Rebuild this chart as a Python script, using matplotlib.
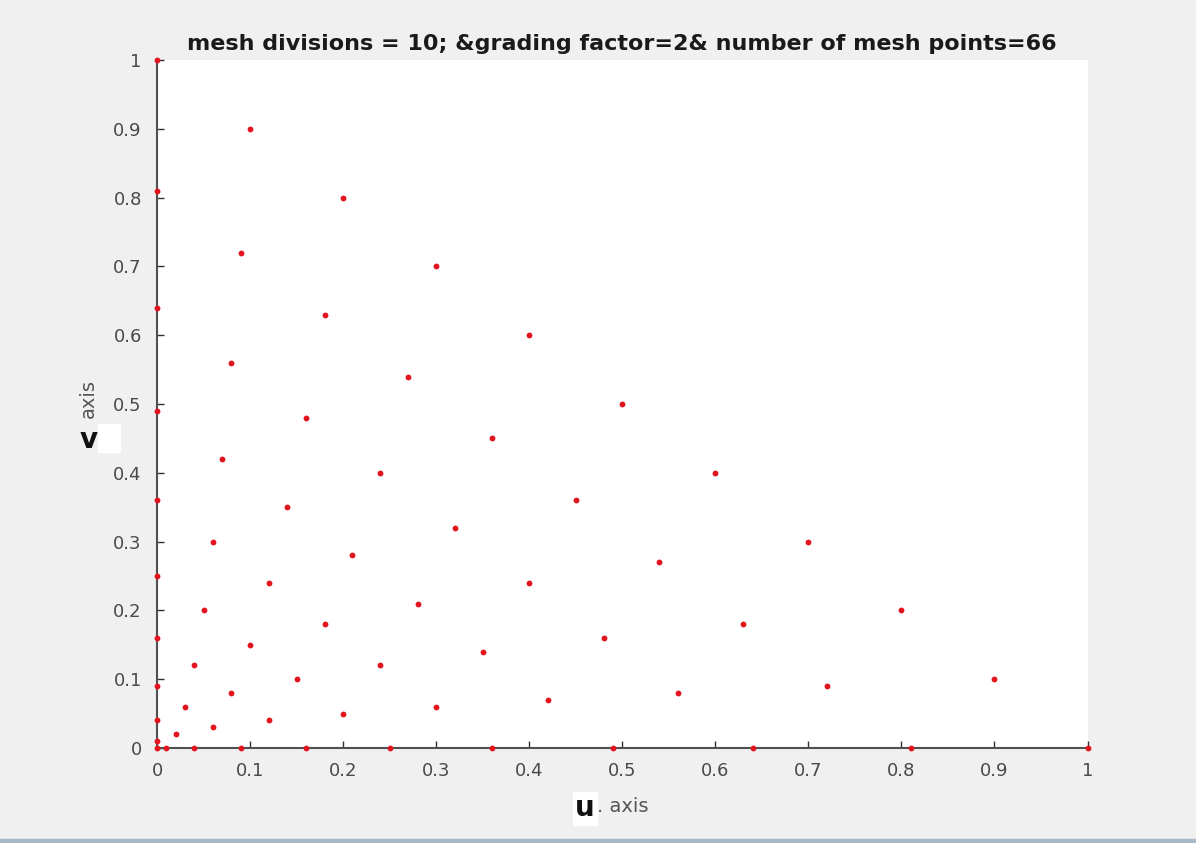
import matplotlib.pyplot as plt
from matplotlib.patches import Rectangle

# mesh points, grouped by ring (u + v = const)
u_pts = [0,
         0, 0.01,
         0, 0.02, 0.04,
         0, 0.03, 0.06, 0.09,
         0, 0.04, 0.08, 0.12, 0.16,
         0, 0.05, 0.10, 0.15, 0.20, 0.25,
         0, 0.06, 0.12, 0.18, 0.24, 0.30, 0.36,
         0, 0.07, 0.14, 0.21, 0.28, 0.35, 0.42, 0.49,
         0, 0.08, 0.16, 0.24, 0.32, 0.40, 0.48, 0.56, 0.64,
         0, 0.09, 0.18, 0.27, 0.36, 0.45, 0.54, 0.63, 0.72, 0.81,
         0, 0.1, 0.2, 0.3, 0.4, 0.5, 0.6, 0.7, 0.8, 0.9, 1.0]
v_pts = [0,
         0.01, 0,
         0.04, 0.02, 0,
         0.09, 0.06, 0.03, 0,
         0.16, 0.12, 0.08, 0.04, 0,
         0.25, 0.20, 0.15, 0.10, 0.05, 0,
         0.36, 0.30, 0.24, 0.18, 0.12, 0.06, 0,
         0.49, 0.42, 0.35, 0.28, 0.21, 0.14, 0.07, 0,
         0.64, 0.56, 0.48, 0.40, 0.32, 0.24, 0.16, 0.08, 0,
         0.81, 0.72, 0.63, 0.54, 0.45, 0.36, 0.27, 0.18, 0.09, 0,
         1.0, 0.9, 0.8, 0.7, 0.6, 0.5, 0.4, 0.3, 0.2, 0.1, 0]
ticks = [0, 0.1, 0.2, 0.3, 0.4, 0.5, 0.6, 0.7, 0.8, 0.9, 1]
tick_labels = ['0', '0.1', '0.2', '0.3', '0.4', '0.5', '0.6', '0.7', '0.8', '0.9', '1']

fig = plt.figure(figsize=(11.96, 8.43), dpi=100, facecolor='#f0f0f0')
ax = fig.add_axes([0.1313, 0.1127, 0.778, 0.816])
ax.set_facecolor('white')

ax.plot(u_pts, v_pts, linestyle='none', marker='o', markersize=4.2,
        color='#e3141e', markeredgewidth=0, clip_on=False, zorder=5)

ax.set_xlim(0, 1)
ax.set_ylim(0, 1)
ax.set_xticks(ticks)
ax.set_xticklabels(tick_labels)
ax.set_yticks(ticks)
ax.set_yticklabels(tick_labels)
ax.tick_params(direction='in', length=5, width=1, color='#303030',
               labelsize=13, labelcolor='#4a4a4a')
ax.tick_params(axis='x', pad=10)
ax.tick_params(axis='y', pad=11)

for s in ['top', 'right']:
    ax.spines[s].set_visible(False)
for s in ['left', 'bottom']:
    ax.spines[s].set_color('#505050')
    ax.spines[s].set_linewidth(1.5)

ax.set_title('mesh divisions = 10; &grading factor=2& number of mesh points=66',
             fontsize=16, fontweight='bold', color='#1a1a1a', pad=7)

# axis labels drawn as in the original: bold letter + small grey "axis"
fig.patches.append(Rectangle((573 / 1196, 1 - 825 / 843), 24 / 1196, 33 / 843,
                             transform=fig.transFigure, color='white', zorder=0))
fig.patches.append(Rectangle((98 / 1196, 1 - 452 / 843), 22 / 1196, 28 / 843,
                             transform=fig.transFigure, color='white', zorder=0))
fig.text(585 / 1196, 1 - 808 / 843, 'u', fontsize=20, fontweight='bold',
         color='#111111', ha='center', va='center')
fig.text(597 / 1196, 1 - 806 / 843, '. axis', fontsize=14,
         color='#555555', ha='left', va='center')
fig.text(89 / 1196, 1 - 440 / 843, 'v', fontsize=20, fontweight='bold',
         color='#111111', ha='center', va='center')
fig.text(88 / 1196, 1 - 398 / 843, 'axis', fontsize=14, rotation=90,
         color='#555555', ha='center', va='center')

# window border at the bottom
fig.patches.append(Rectangle((0, 0), 1, 4 / 843, transform=fig.transFigure,
                             color='#a8b8c8', zorder=0))

fig.savefig('out.png', dpi=100, facecolor=fig.get_facecolor())
